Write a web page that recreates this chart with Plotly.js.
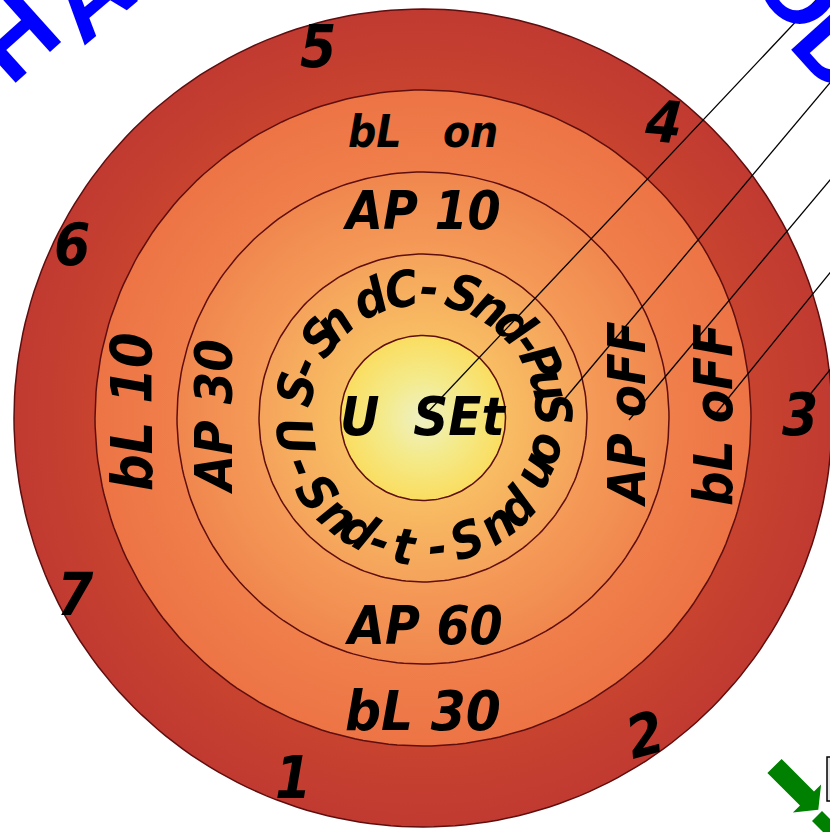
<!DOCTYPE html>
<html><head><meta charset="utf-8">
<script src="https://cdn.plot.ly/plotly-3.0.1.min.js"></script>
<style>html,body{margin:0;padding:0;background:#fff;overflow:hidden}#chart{width:830px;height:832px}</style>
</head><body><div id="chart"></div>
<script>
// ---------- content (values / texts) ----------
const ringNames = ['outer', 'bL', 'AP', 'Snd', 'USEt'];
const ringColorsInner = ['#D04C30', '#F3904F', '#F6A85C', '#F9D066', '#EEF1C4'];
const ringColorsMid   = ['#C8432F', '#F07F4B', '#F59B58', '#F8BD63', '#F4EA8A'];
const ringColorsOuter = ['#C13A31', '#ED7445', '#F0874E', '#F5A35B', '#FADD60'];
const outerNumbers = ['1', '2', '3', '4', '5', '6', '7'];
const straightLabels = ['bL   on', 'bL 30', 'AP 10', 'AP 60', 'bL 10', 'AP 30', 'AP oFF', 'bL oFF', 'U  SEt'];
const ringTopChars = ['S', '-', 'S', 'n', 'd', 'C', '-', 'S', 'n', 'd', '-', 'P', 'u', 'S', 'o', 'n'];
const ringBottomChars = ['U', '-', 'S', 'n', 'd', '-', 't', '-', 'S', 'n', 'd'];
const bigLetters = ['H', 'A', 'O', 'D'];

// ---------- geometry / style ----------
const W = 830, H = 832;
const CX = 423, CY = 418;
const ringRadii = [409, 328, 246, 164, 82.5];
const ringStops = [0.8, 0.75, 0.667, 0.5, 0.5];
const outerNumPos = [[293, 778, 0], [645, 735, -15], [800, 415, 0], [663, 122, 5], [318, 47, 0], [72, 245, 0], [75, 595, 0]];
const straightPos = [[423, 131, 0, 44], [423, 710, 0, 56], [421, 210, 0, 53], [423, 625, 0, 53],
  [132, 412, -90, 57], [214, 417, -90, 52], [627, 415, -90, 52], [713, 415, -90, 54], [423, 416, 0, 54]];
const ringTopAngles = [283, 293.5, 308, 317, 336, 350.5, 3, 18, 31.5, 45, 55, 65, 75, 86, 104, 115];
const ringBottomAngles = [262, 248, 235, 221, 209.5, 199, 188, 173.6, 160, 145, 133.5];
const ringTextR = 130;
const bigPos = [[14, 36, -42], [88, -4, -40], [800, -14, 44], [838, 48, 48]];
const leaders = [[427, 413, 835, -20], [552, 414, 850, 59], [629, 420, 850, 156], [713, 417, 850, 248], [808, 397, 850, 345]];

const FONT = 'Liberation Sans Narrow, DejaVu Sans Condensed, Arial Narrow, sans-serif';
const rad = d => d * Math.PI / 180;

const traces = ringRadii.map((r, i) => {
  const xs = [], ys = [];
  for (let k = 0; k <= 240; k++) {
    const a = 2 * Math.PI * k / 240;
    xs.push(CX + r * Math.cos(a)); ys.push(CY + r * Math.sin(a));
  }
  return {
    type: 'scatter', mode: 'lines', x: xs, y: ys, name: ringNames[i],
    fill: 'toself', hoverinfo: 'skip',
    line: { color: '#5E0E0E', width: 1.5 },
    fillcolor: ringColorsMid[i],
    fillgradient: { type: 'radial', colorscale: [[0, ringColorsInner[i]], [ringStops[i], ringColorsMid[i]], [1, ringColorsOuter[i]]] }
  };
});

const ann = [];
function addText(text, x, y, angle, size, extra) {
  ann.push(Object.assign({
    text: text, x: x, y: y, xref: 'x', yref: 'y', showarrow: false, textangle: angle,
    xanchor: 'center', yanchor: 'middle',
    font: { family: FONT, size: size, color: '#000', weight: 700, style: 'italic' }
  }, extra || {}));
}
outerNumbers.forEach((t, i) => addText(t, outerNumPos[i][0], outerNumPos[i][1], outerNumPos[i][2], 58));
straightLabels.forEach((t, i) => addText(t, straightPos[i][0], straightPos[i][1], straightPos[i][2], straightPos[i][3]));
ringTopChars.forEach((c, i) => {
  const th = ringTopAngles[i];
  addText(c, CX + ringTextR * Math.sin(rad(th)), CY - ringTextR * Math.cos(rad(th)), ((th + 180) % 360) - 180, 50);
});
ringBottomChars.forEach((c, i) => {
  const th = ringBottomAngles[i];
  addText(c, CX + ringTextR * Math.sin(rad(th)), CY - ringTextR * Math.cos(rad(th)), th - 180, 50);
});
bigLetters.forEach((c, i) => {
  ann.push({
    text: c, x: bigPos[i][0] / W, y: 1 - bigPos[i][1] / H, xref: 'paper', yref: 'paper',
    showarrow: false, textangle: bigPos[i][2], xanchor: 'center', yanchor: 'middle',
    font: { family: 'Liberation Sans, Arial, sans-serif', size: 104, color: '#0000FF', weight: 700 }
  });
});

const shapes = leaders.map(l => ({ type: 'line', xref: 'x', yref: 'y', x0: l[0], y0: l[1], x1: l[2], y1: l[3], line: { color: '#000', width: 1.3 }, layer: 'above' }));
shapes.push({ type: 'path', xref: 'x', yref: 'y', path: 'M767.4,773.1 L781.6,758.9 L814,791.4 L821.1,784.4 L818.3,809.8 L792.9,812.6 L800,805.6 Z', fillcolor: '#008000', line: { width: 0 } });
shapes.push({ type: 'path', xref: 'x', yref: 'y', path: 'M812,821 L822,811 L845,834 L835,844 Z', fillcolor: '#008000', line: { width: 0 } });
shapes.push({ type: 'rect', xref: 'x', yref: 'y', x0: 827, x1: 845, y0: 757, y1: 801, fillcolor: '#e6e6e6', line: { color: '#000', width: 1.5 } });

const layout = {
  width: W, height: H, margin: { l: 0, r: 0, t: 0, b: 0 },
  paper_bgcolor: '#fff', plot_bgcolor: '#fff', showlegend: false,
  xaxis: { range: [0, 830], visible: false, fixedrange: true },
  yaxis: { range: [832, 0], visible: false, fixedrange: true },
  annotations: ann, shapes: shapes
};
Plotly.newPlot('chart', traces, layout, { staticPlot: true, displayModeBar: false });
</script></body></html>
